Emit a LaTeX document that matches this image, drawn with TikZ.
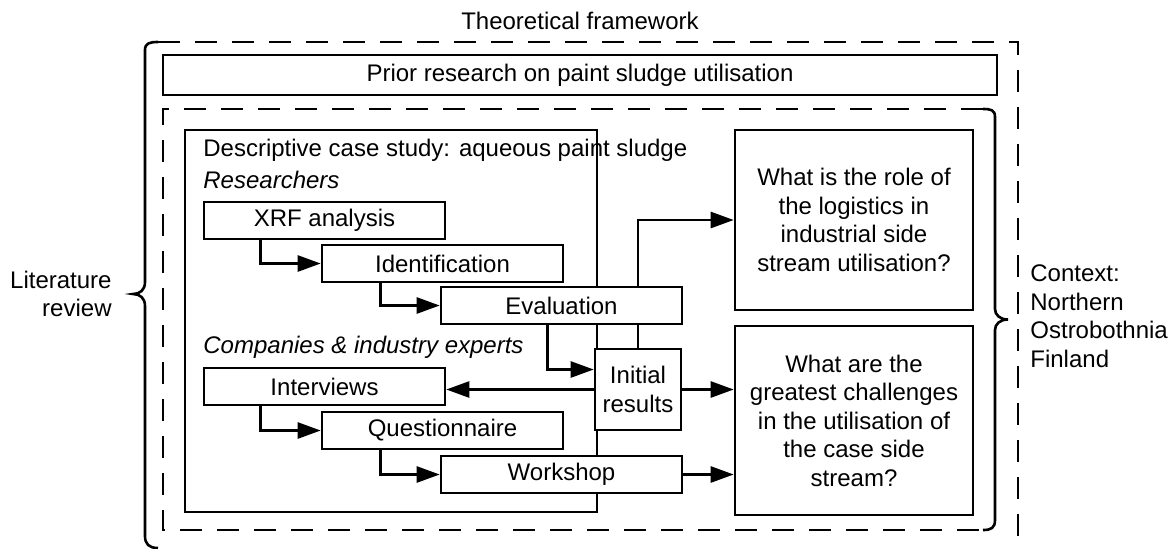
\documentclass[tikz,border=0pt]{standalone}
\usepackage{fontspec}
\setmainfont{Liberation Sans}
\usepackage{tikz}
\usetikzlibrary{positioning,arrows.meta}
\tikzset{
  every node/.style={
    font=\fontsize{12}{14.25}\selectfont,
    inner sep=0pt
  },
  stepbox/.style={
    draw, fill=white, line width=1.3pt,
    minimum width=120.5pt, minimum height=18.5pt
  },
  qbox/.style={
    draw, line width=1.3pt, align=center,
    minimum width=119pt
  },
  group/.style={
    anchor=base west,
    font=\fontsize{12}{14.25}\selectfont\itshape
  },
  flow/.style={
    line width=1.3pt,
    -{Triangle[length=11.5pt,width=8pt]}
  },
  frame/.style={
    line width=1.3pt,
    dash pattern=on 11pt off 7.5pt
  }
}

\begin{document}
\begin{tikzpicture}[x=0.5pt,y=-0.5pt]
      \useasboundingbox (0,0) rectangle (1174,548);
      \node[anchor=base] (Title) at (580,29) {Theoretical framework};
      \node[draw, line width=1.3pt, minimum width=417pt, minimum height=20pt] (Prior)
      at (580,75) {Prior research on paint sludge utilisation};
      \node[draw, line width=1.3pt, minimum width=206pt, minimum height=191pt] (Case)
      at (391,321) {};
      \node[anchor=base west] (CaseTitle) at (203,156)
      {Descriptive case study: aqueous paint sludge};
      \node[group] (Res) at (203,188) {Researchers};
      \node[stepbox] (XRF) at (324.5,220.5) {XRF analysis};
      \node[stepbox, on grid, below right=21.5pt and 59pt of XRF] (Ident) {Identification};
      \node[stepbox, on grid, below right=21pt and 59.5pt of Ident] (Eval) {Evaluation};
      \node[group] (Comp) at (203,353) {Companies \& industry experts};
      \node[stepbox] (Intv) at (324.5,386.5) {Interviews};
      \node[stepbox, on grid, below right=22pt and 59pt of Intv] (Quest) {Questionnaire};
      \node[stepbox, on grid, below right=22pt and 59.5pt of Quest] (Work) {Workshop};
      \node[draw, fill=white, line width=1.3pt, align=center,
      minimum width=43pt, minimum height=40.5pt] (Init) at (638,389.5) {Initial\\results};
      \node[qbox, minimum height=90pt] (Q1) at (854,220)
      {What is the role of\\the logistics in\\industrial side\\stream utilisation?};
      \node[qbox, minimum height=94.5pt] (Q2) at (854,420.5)
      {What are the\\greatest challenges\\in the utilisation of\\the case side\\stream?};
      \node[anchor=east, align=right] (Lit) at (112,294) {Literature\\review};
      \node[anchor=west, align=left] (Ctx) at (1030,316)
      {Context:\\Northern\\Ostrobothnia\\Finland};

      \draw[line width=1.3pt] (158,42) .. controls (150,42) and (145,43) .. (145,50)
      -- (145,282) .. controls (145,290) and (140,294) .. (133,294)
      .. controls (140,294) and (145,298) .. (145,306)
      -- (145,536) .. controls (145,544) and (149,548) .. (158,548);
      \draw[frame] (158,42) -- (1018,42) -- (1018,552);
      \draw[frame] (983,109) -- (163,109) -- (163,530) -- (983,530);
      \draw[line width=1.3pt] (983,109) .. controls (991,109) and (995,110) .. (995,117)
      -- (995,309) .. controls (995,315) and (1000,319.5) .. (1008,319.5)
      .. controls (1000,319.5) and (995,324) .. (995,330)
      -- (995,520) .. controls (995,528) and (991,530) .. (983,530);

      \draw[flow] ([xshift=29pt]XRF.south west) |- (Ident.west);
      \draw[flow] ([xshift=30pt]Ident.south west) |- (Eval.west);
      \draw[flow] ([xshift=54pt]Eval.south west) |- ([yshift=10pt]Init.west);
      \draw[flow] ([xshift=29pt]Intv.south west) |- (Quest.west);
      \draw[flow] ([xshift=30pt]Quest.south west) |- (Work.west);
      \draw[flow] (Init.west) -- (Init.west -| Intv.east);
      \draw[flow] (Init.east) -- (Init.east -| Q2.west);
      \draw[flow] (Work.east) -- (Work.east -| Q2.west);
      \draw[line width=1.3pt] (Init.north) -- (Init.north |- Eval.south);
      \draw[flow] (Init.north |- Eval.north) |- (Q1.west);
    \end{tikzpicture}
\end{document}
